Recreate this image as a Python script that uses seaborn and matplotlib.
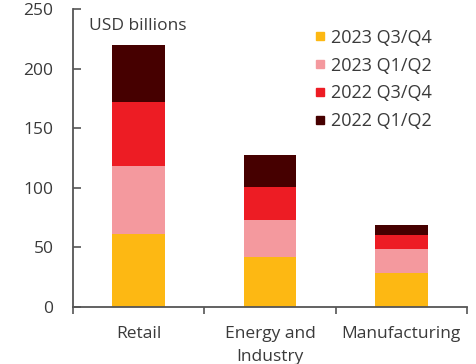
import matplotlib
matplotlib.use("Agg")
import matplotlib.pyplot as plt
from matplotlib.lines import Line2D
import seaborn as sns
import numpy as np
import pandas as pd

categories = ["Retail", "Energy and\nIndustry", "Manufacturing"]
s2023_h2 = [61.2, 41.6, 28.6]
s2023_h1 = [57.2, 31.1, 20.2]
s2022_h2 = [54.1, 28.3, 11.5]
s2022_h1 = [47.5, 26.4, 8.4]
series_names = ["2023 Q3/Q4", "2023 Q1/Q2", "2022 Q3/Q4", "2022 Q1/Q2"]
series_colors = ["#FDB813", "#F4999E", "#ED1C24", "#460000"]
yticks = [0, 50, 100, 150, 200, 250]

sns.set_theme(style="white")
plt.rcParams["font.family"] = ["Open Sans", "DejaVu Sans"]
text_color = "#3a3a3a"
spine_color = "#555555"

fig = plt.figure(figsize=(4.76, 3.64), dpi=100)
ax = fig.add_axes([0.1534, 0.1574, 0.981 - 0.1534, 0.974 - 0.1574])

series = [s2023_h2, s2023_h1, s2022_h2, s2022_h1]
cum = np.cumsum(np.array(series), axis=0)
# draw from top cumulative to bottom so each layer overlays
for i in range(len(series) - 1, -1, -1):
    df = pd.DataFrame({"cat": categories, "val": cum[i]})
    sns.barplot(data=df, x="cat", y="val", color=series_colors[i], width=0.4,
                saturation=1, ax=ax, linewidth=0, errorbar=None)

ax.set_xlim(-0.5, 2.5)
ax.set_ylim(0, 250)
ax.set_yticks(yticks)
ax.set_xlabel("")
ax.set_ylabel("")

for s in ["top", "right"]:
    ax.spines[s].set_visible(False)
for s in ["left", "bottom"]:
    ax.spines[s].set_color(spine_color)
    ax.spines[s].set_linewidth(1.3)

ax.tick_params(axis="y", direction="in", length=5.5, width=1.2, color=spine_color,
               labelsize=12.5, labelcolor=text_color, pad=14, left=True)
ax.tick_params(axis="x", which="major", length=0, labelsize=12.5,
               labelcolor=text_color, pad=14)
ax.set_xticks([-0.5, 0.5, 1.5, 2.5], minor=True)
ax.tick_params(axis="x", which="minor", direction="out", length=5, width=1.2,
               color=spine_color, bottom=True)
for lab in ax.get_xticklabels():
    lab.set_linespacing(1.55)
    lab.set_verticalalignment("top")

ax.text(0.04, 0.945, "USD billions", transform=ax.transAxes, fontsize=12.5,
        color=text_color, ha="left", va="center")

handles = [Line2D([0], [0], marker="s", linestyle="none", markersize=6,
                  markerfacecolor=c, markeredgecolor=c) for c in series_colors]
leg = ax.legend(handles, series_names, loc="upper left",
                bbox_to_anchor=(0.595, 0.96), frameon=False, fontsize=13,
                handlelength=0.55, handletextpad=0.35, labelspacing=0.55,
                borderaxespad=0)
for t in leg.get_texts():
    t.set_color(text_color)

fig.savefig("out.png", dpi=100)
